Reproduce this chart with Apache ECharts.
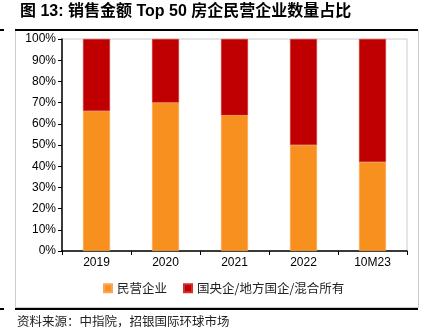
<!DOCTYPE html>
<html><head><meta charset="utf-8">
<script src="https://cdn.jsdelivr.net/npm/echarts@6/dist/echarts.min.js"></script>
<style>html,body{margin:0;padding:0;background:#fff}#c{width:434px;height:333px}</style>
</head><body><div id="c"></div>
<script>
const categories = ['2019','2020','2021','2022','10M23'];
const privateShare = [66, 70, 64, 50, 42];
const stateShare = [34, 30, 36, 50, 58];
const seriesNames = ['民营企业','国央企/地方国企/混合所有'];
const titleText = '图 13: 销售金额 Top 50 房企民营企业数量占比';
const sourceText = '资料来源：中指院，招银国际环球市场';

const chart = echarts.init(document.getElementById('c'));
chart.setOption({
  animation:false,
  backgroundColor:'#fff',
  textStyle:{fontFamily:'Liberation Sans, Arial, Noto Sans CJK SC'},
  grid:{left:62,right:27,top:39,bottom:82},
  legend:{
    data:seriesNames, left:98, top:277, itemWidth:8, itemHeight:8, itemGap:16,
    icon:'rect',
    textStyle:{fontSize:12.5,color:'#222',fontFamily:'Noto Sans CJK SC'}
  },
  xAxis:{
    type:'category', data:categories,
    axisLine:{lineStyle:{color:'#000',width:1.5}},
    axisTick:{show:true,length:4,lineStyle:{color:'#000'}},
    axisLabel:{color:'#000',fontSize:12,margin:6}
  },
  yAxis:{
    type:'value', min:0, max:100, interval:10,
    axisLine:{show:true,lineStyle:{color:'#000',width:1.5}},
    axisTick:{show:true,length:4,lineStyle:{color:'#000'}},
    splitLine:{show:false},
    axisLabel:{color:'#000',fontSize:12,margin:6,formatter:'{value}%'}
  },
  series:[
    {name:seriesNames[0],type:'bar',stack:'a',data:privateShare,barWidth:'39%',
     itemStyle:{color:'#F7901E',borderColor:'#F9A955',borderWidth:0.5}},
    {name:seriesNames[1],type:'bar',stack:'a',data:stateShare,barWidth:'39%',
     itemStyle:{color:'#C00000',borderColor:'#D03030',borderWidth:0.5}}
  ],
  graphic:[
    {type:'text',left:20,top:4,style:{text:titleText,fontSize:16,fontWeight:'bold',fill:'#000',fontFamily:'Liberation Sans, Noto Sans CJK SC'}},
    {type:'rect',shape:{x:15.5,y:30.5,width:403,height:277},style:{fill:'none',stroke:'#ccc',lineWidth:1},z:-1},
    {type:'rect',shape:{x:62,y:39,width:345,height:212},style:{fill:'none',stroke:'#ccc',lineWidth:1},z:-1},
    {type:'line',shape:{x1:15,y1:30,x2:418,y2:30},style:{stroke:'#000',lineWidth:2}},
    {type:'line',shape:{x1:15,y1:309,x2:418,y2:309},style:{stroke:'#000',lineWidth:2}},
    {type:'line',shape:{x1:0,y1:30,x2:4,y2:30},style:{stroke:'#000',lineWidth:2}},
    {type:'line',shape:{x1:0,y1:309,x2:4,y2:309},style:{stroke:'#000',lineWidth:2}},
    {type:'text',left:17,top:315,style:{text:sourceText,fontSize:12.5,fill:'#222',fontFamily:'Noto Sans CJK SC'}}
  ]
});
</script></body></html>
